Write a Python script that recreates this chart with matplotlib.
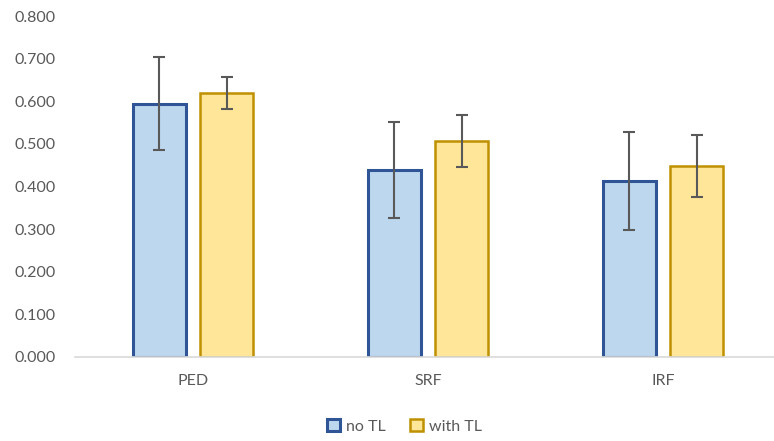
import matplotlib
matplotlib.use('Agg')
import matplotlib.pyplot as plt
import numpy as np

categories = ['PED', 'SRF', 'IRF']
no_tl = [0.594, 0.439, 0.413]
no_tl_err = [0.109, 0.113, 0.114]
with_tl = [0.619, 0.507, 0.448]
with_tl_err = [0.038, 0.060, 0.072]

plt.rcParams['font.family'] = ['Lato', 'DejaVu Sans']

fig = plt.figure(figsize=(7.74, 4.41), dpi=100)
ax = fig.add_axes([0.0975, 0.1905, 0.911, 0.773])

x = np.arange(len(categories))
w = 0.225
off = 0.143
err_kw = dict(ecolor='#595959', elinewidth=1.5, capsize=4.5, capthick=1.5)
ax.bar(x - off, no_tl, w, yerr=no_tl_err, color='#BDD7EE', edgecolor='#2F5597',
       linewidth=2.2, error_kw=err_kw, label='no TL')
ax.bar(x + off, with_tl, w, yerr=with_tl_err, color='#FFE699', edgecolor='#BF9000',
       linewidth=1.8, error_kw=err_kw, label='with TL')

ax.set_xlim(-0.5, 2.5)
ax.set_ylim(0, 0.8)
ax.set_yticks(np.arange(0, 0.81, 0.1))
ax.set_yticklabels(['%.3f' % v for v in np.arange(0, 0.81, 0.1)])
ax.set_xticks(x)
ax.set_xticklabels(categories)
ax.tick_params(colors='#595959', labelsize=11.5, length=0)
ax.tick_params(axis='x', pad=12)
ax.tick_params(axis='y', pad=14)
for s in ['top', 'right', 'left']:
    ax.spines[s].set_visible(False)
ax.spines['bottom'].set_color('#D9D9D9')
ax.spines['bottom'].set_linewidth(1.2)

leg = fig.legend(loc='center', bbox_to_anchor=(0.523, 0.033), ncol=2, frameon=False,
                 fontsize=11.5, handlelength=0.8, handleheight=0.8, handletextpad=0.4,
                 columnspacing=1.5)
for t in leg.get_texts():
    t.set_color('#595959')

fig.savefig('out.png', dpi=100)
